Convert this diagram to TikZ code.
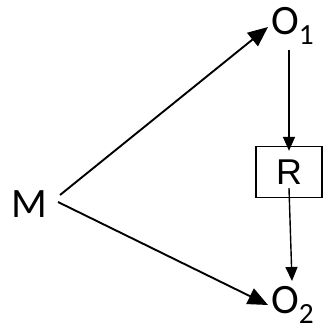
\documentclass[tikz,border=0pt]{standalone}
\usepackage{fontspec}
\setmainfont{Carlito}
\newfontfamily\boxfont{Liberation Sans}
\usetikzlibrary{arrows.meta}

\begin{document}
\begin{tikzpicture}[x=1bp,y=-1bp,
  lbl/.style={font=\fontsize{42}{48}\selectfont,inner sep=0pt},
  box/.style={draw,line width=1.3bp,minimum width=66bp,minimum height=51bp,inner sep=0pt,font=\boxfont\fontsize{36}{40}\selectfont},
  arr/.style={-{Triangle[length=20bp,width=17bp]},line width=1.9bp},
  varr/.style={-{Triangle[length=14bp,width=12bp]},line width=1.4bp}]
\useasboundingbox (0,0) rectangle (323,332);
\node[lbl] (M) at (29,204) {M};
\node[lbl,anchor=west] (O1) at (271,26) {O\textsubscript{1}};
\node[box] (R) at (289,172) {R};
\node[lbl,anchor=west] (O2) at (271,305) {O\textsubscript{2}};
\draw[arr] ([shift={(31,-9)}]M.center) -- ([shift={(-3,1)}]O1.west);
\draw[arr] ([shift={(29,-2)}]M.center) -- ([shift={(-3,0)}]O2.west);
\draw[varr] (O1.south -| R) ++(0,5) -- ([yshift=-5]R.north);
\draw[varr] ([yshift=10]R.south) -- ([shift={(3,-5)}]O2.north -| R);
\end{tikzpicture}
\end{document}
